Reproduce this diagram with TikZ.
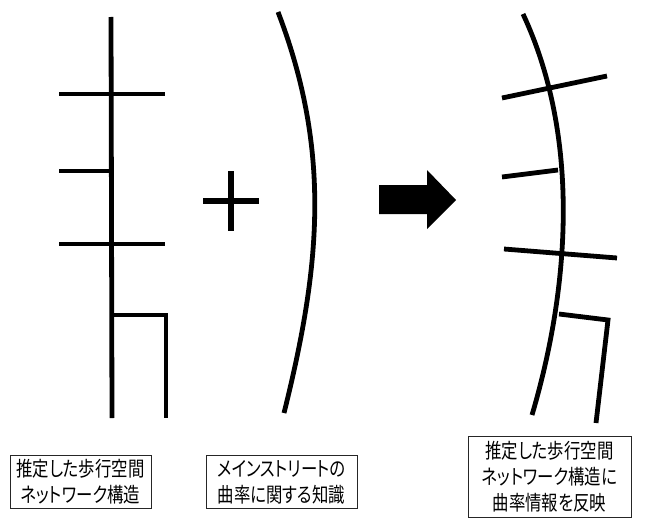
\documentclass[tikz,border=0pt]{standalone}
\usepackage{fontspec}
\newfontfamily\jp[RawFeature=+palt,FakeStretch=0.8]{Noto Sans CJK JP}
\begin{document}
\begin{tikzpicture}[x=1pt,y=-1pt,
  stroke/.style={line width=4.8pt,black},
  plusstroke/.style={line width=6.5pt,black},
  label/.style={draw=black!85,line width=0.9pt,align=center,inner sep=0pt,
    font=\jp\fontsize{20.5}{26}\selectfont}]
\useasboundingbox (0,0) rectangle (656,519);
% left network
\draw[stroke] (111,17) -- (112,418);
\draw[stroke] (59,94) -- (165,94);
\draw[stroke] (59,171) -- (111,171);
\draw[stroke] (59,244) -- (165,244);
\draw[stroke] (112,315) -- (166,315) -- (166,418);
% plus
\draw[plusstroke] (203,201) -- (259,201);
\draw[plusstroke] (231,171) -- (231,231);
% mainstreet curve
\draw[stroke] (278,12) .. controls (331.7,152) and (320.3,267.5) .. (284,413);
% arrow
\fill[black] (379,185) -- (427,185) -- (427,170) -- (456,200) -- (427,229) -- (427,214) -- (379,214) -- cycle;
% right network
\draw[stroke] (523,14) .. controls (580.1,136.3) and (570.3,285.5) .. (532,415);
\draw[stroke] (502,98) -- (607,76);
\draw[stroke] (502,177) -- (558,170);
\draw[stroke] (504,249) -- (617,258);
\draw[stroke] (559,314) -- (608,320) -- (596,423);
% labels
\node[label,minimum width=141pt,minimum height=53pt] (b1) at (80.5,482) {推定した歩行空間\\ネットワーク構造};
\node[label,minimum width=151pt,minimum height=53pt] (b2) at (281.5,482) {メインストリートの\\曲率に関する知識};
\node[label,minimum width=163pt,minimum height=81pt] (b3) at (549.5,476.5) {推定した歩行空間\\ネットワーク構造に\\曲率情報を反映};
\end{tikzpicture}
\end{document}
